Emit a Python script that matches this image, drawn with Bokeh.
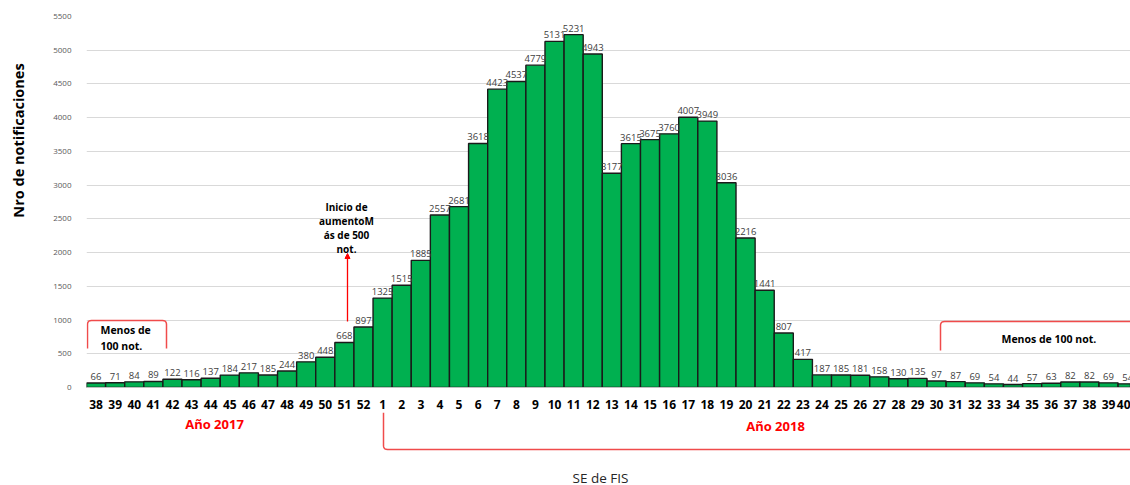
import math
from bokeh.plotting import figure
from bokeh.layouts import row, column
from bokeh.models import ColumnDataSource, Label, Arrow, NormalHead, FixedTicker, Range1d
from bokeh.embed import file_html
from bokeh.resources import INLINE
from bokeh.core.properties import value

# ---- data ----
weeks_2017 = [38, 39, 40, 41, 42, 43, 44, 45, 46, 47, 48, 49, 50, 51, 52]
cases_2017 = [66, 71, 84, 89, 122, 116, 137, 184, 217, 185, 244, 380, 448, 668, 897]
weeks_2018 = list(range(1, 41))
cases_2018 = [1325, 1515, 1885, 2557, 2681, 3618, 4423, 4537, 4779, 5131,
              5231, 4943, 3177, 3615, 3675, 3760, 4007, 3949, 3036, 2216,
              1441, 807, 417, 187, 185, 181, 158, 130, 135, 97,
              87, 69, 54, 44, 57, 63, 82, 82, 69, 54]
y_ticks = list(range(0, 5501, 500))

weeks = weeks_2017 + weeks_2018
cases = cases_2017 + cases_2018
idx = list(range(len(weeks)))

FONT = "Open Sans"
RED = "#f04b4b"

# ---- geometry (window pixels) ----
TW = 36                 # left strip holding the y title
W, H = 1130, 485
FL, FR, FT, FB = 86, 1130, 16, 387   # frame edges in window px
H1 = 412                # height of main figure
X0, X1 = -0.5, 54.15
Y0, Y1 = 0, 5500

def xi(px):
    return X0 + (px - FL) / (FR - FL) * (X1 - X0)

def yv(py):
    return (FB - py) / (FB - FT) * (Y1 - Y0)

def common(fig):
    fig.outline_line_color = None
    fig.background_fill_color = "white"
    fig.border_fill_color = "white"

# ---- main chart ----
p = figure(width=W - TW, height=H1, x_range=Range1d(X0, X1), y_range=Range1d(Y0, Y1),
           output_backend="svg", toolbar_location=None,
           min_border_left=FL - TW, min_border_right=0, min_border_top=FT,
           min_border_bottom=H1 - FB)
common(p)

src = ColumnDataSource(dict(x=idx, top=cases, label=[str(c) for c in cases]))
p.vbar(x="x", top="top", bottom=0, width=1.0, source=src,
       fill_color="#00b050", line_color="#1a1a1a", line_width=1.4)
p.text(x="x", y="top", text="label", source=src, text_align="center",
       text_baseline="bottom", y_offset=-3, text_font=value(FONT),
       text_font_size="9.5px", text_color="#404040")

p.xaxis.ticker = FixedTicker(ticks=idx)
p.xaxis.major_label_overrides = {i: str(w) for i, w in zip(idx, weeks)}
p.xaxis.major_label_text_font = FONT
p.xaxis.major_label_text_font_size = "12px"
p.xaxis.major_label_text_font_style = "bold"
p.xaxis.major_label_text_color = "black"
p.xaxis.major_label_standoff = 6
p.xaxis.major_tick_line_color = None
p.xaxis.minor_tick_line_color = None
p.xaxis.axis_line_color = "#bfbfbf"

p.yaxis.ticker = FixedTicker(ticks=y_ticks)
p.yaxis.major_label_text_font = FONT
p.yaxis.major_label_text_font_size = "8px"
p.yaxis.major_label_text_color = "#595959"
p.yaxis.major_label_standoff = 9
p.yaxis.major_tick_line_color = None
p.yaxis.minor_tick_line_color = None
p.yaxis.axis_line_color = None

p.xgrid.grid_line_color = None
p.ygrid.grid_line_color = "#d9d9d9"
p.ygrid.grid_line_width = 1


def rounded(pts, r=4, n=5):
    """polyline through pixel points with rounded corners (pixel space)."""
    out = [pts[0]]
    for k in range(1, len(pts) - 1):
        (ax, ay), (bx, by), (cx, cy) = pts[k - 1], pts[k], pts[k + 1]
        d1 = math.hypot(bx - ax, by - ay)
        d2 = math.hypot(cx - bx, cy - by)
        ux, uy = (bx - ax) / d1, (by - ay) / d1
        vx, vy = (cx - bx) / d2, (cy - by) / d2
        sx, sy = bx - ux * r, by - uy * r
        ex, ey = bx + vx * r, by + vy * r
        for j in range(n + 1):
            t = j / n
            qx = (1 - t) ** 2 * sx + 2 * (1 - t) * t * bx + t ** 2 * ex
            qy = (1 - t) ** 2 * sy + 2 * (1 - t) * t * by + t ** 2 * ey
            out.append((qx, qy))
    out.append(pts[-1])
    return out


def bracket(fig, pts, ymap, color=RED, w=1.5):
    pp = rounded(pts)
    fig.line([xi(a) for a, _ in pp], [ymap(b) for _, b in pp], line_color=color, line_width=w)


def lab(fig, px, py, ymap, text, align="center", color="black", size="10px", style="bold"):
    fig.add_layout(Label(x=xi(px), y=ymap(py), text=text, text_align=align,
                         text_baseline="middle", text_font=FONT, text_font_size=size,
                         text_font_style=style, text_color=color))

# left bracket "Menos de 100 not."
bracket(p, [(87, 348), (87, 320), (166, 320), (166, 348)], yv)
lab(p, 100, 329, yv, "Menos de", align="left", size="10.5px")
lab(p, 100, 345, yv, "100 not.", align="left", size="10.5px")

# right bracket
bracket(p, [(940, 350), (940, 321), (1140, 321)], yv)
lab(p, 1001, 338, yv, "Menos de 100 not.", align="left", size="10.5px")

# arrow + note
p.add_layout(Arrow(x_start=xi(347), y_start=yv(321), x_end=xi(347), y_end=yv(253),
                   line_color="#ff0000", line_width=1.3,
                   end=NormalHead(size=5, fill_color="#ff0000", line_color="#ff0000")))
for py, t in zip([206, 220, 234, 248], ["Inicio de", "aumentoM", "ás de 500", "not."]):
    lab(p, 346, py, yv, t)

# ---- strip below: year brackets + x title ----
H2 = H - H1
p2 = figure(width=W - TW, height=H2, x_range=p.x_range, y_range=Range1d(H2, 0),
            output_backend="svg", toolbar_location=None,
            min_border_left=FL - TW, min_border_right=0, min_border_top=0, min_border_bottom=0,
            x_axis_type=None, y_axis_type=None)
common(p2)
p2.grid.grid_line_color = None

def yb(py):
    return py - H1

bracket(p2, [(383, H1), (383, 449), (1140, 449)], yb)
lab(p2, 214, 423, yb, "Año 2017", color="#ff0000", size="13px")
lab(p2, 775, 425, yb, "Año 2018", color="#ff0000", size="13px")
lab(p2, 600, 477, yb, "SE de FIS", color="#262626", size="13.5px", style="normal")

# ---- left strip: y title ----
pt = figure(width=TW, height=H, x_range=Range1d(0, TW), y_range=Range1d(H, 0),
            output_backend="svg", toolbar_location=None,
            min_border_left=0, min_border_right=0, min_border_top=0, min_border_bottom=0,
            x_axis_type=None, y_axis_type=None)
common(pt)
pt.grid.grid_line_color = None
pt.add_layout(Label(x=18, y=140, text="Nro de notificaciones", angle=math.pi / 2,
                    text_align="center", text_baseline="middle", text_font=FONT,
                    text_font_size="14.5px", text_font_style="bold", text_color="black"))

layout = row(pt, column(p, p2, spacing=0), spacing=0)
open("out.html", "w").write(file_html(layout, INLINE))
